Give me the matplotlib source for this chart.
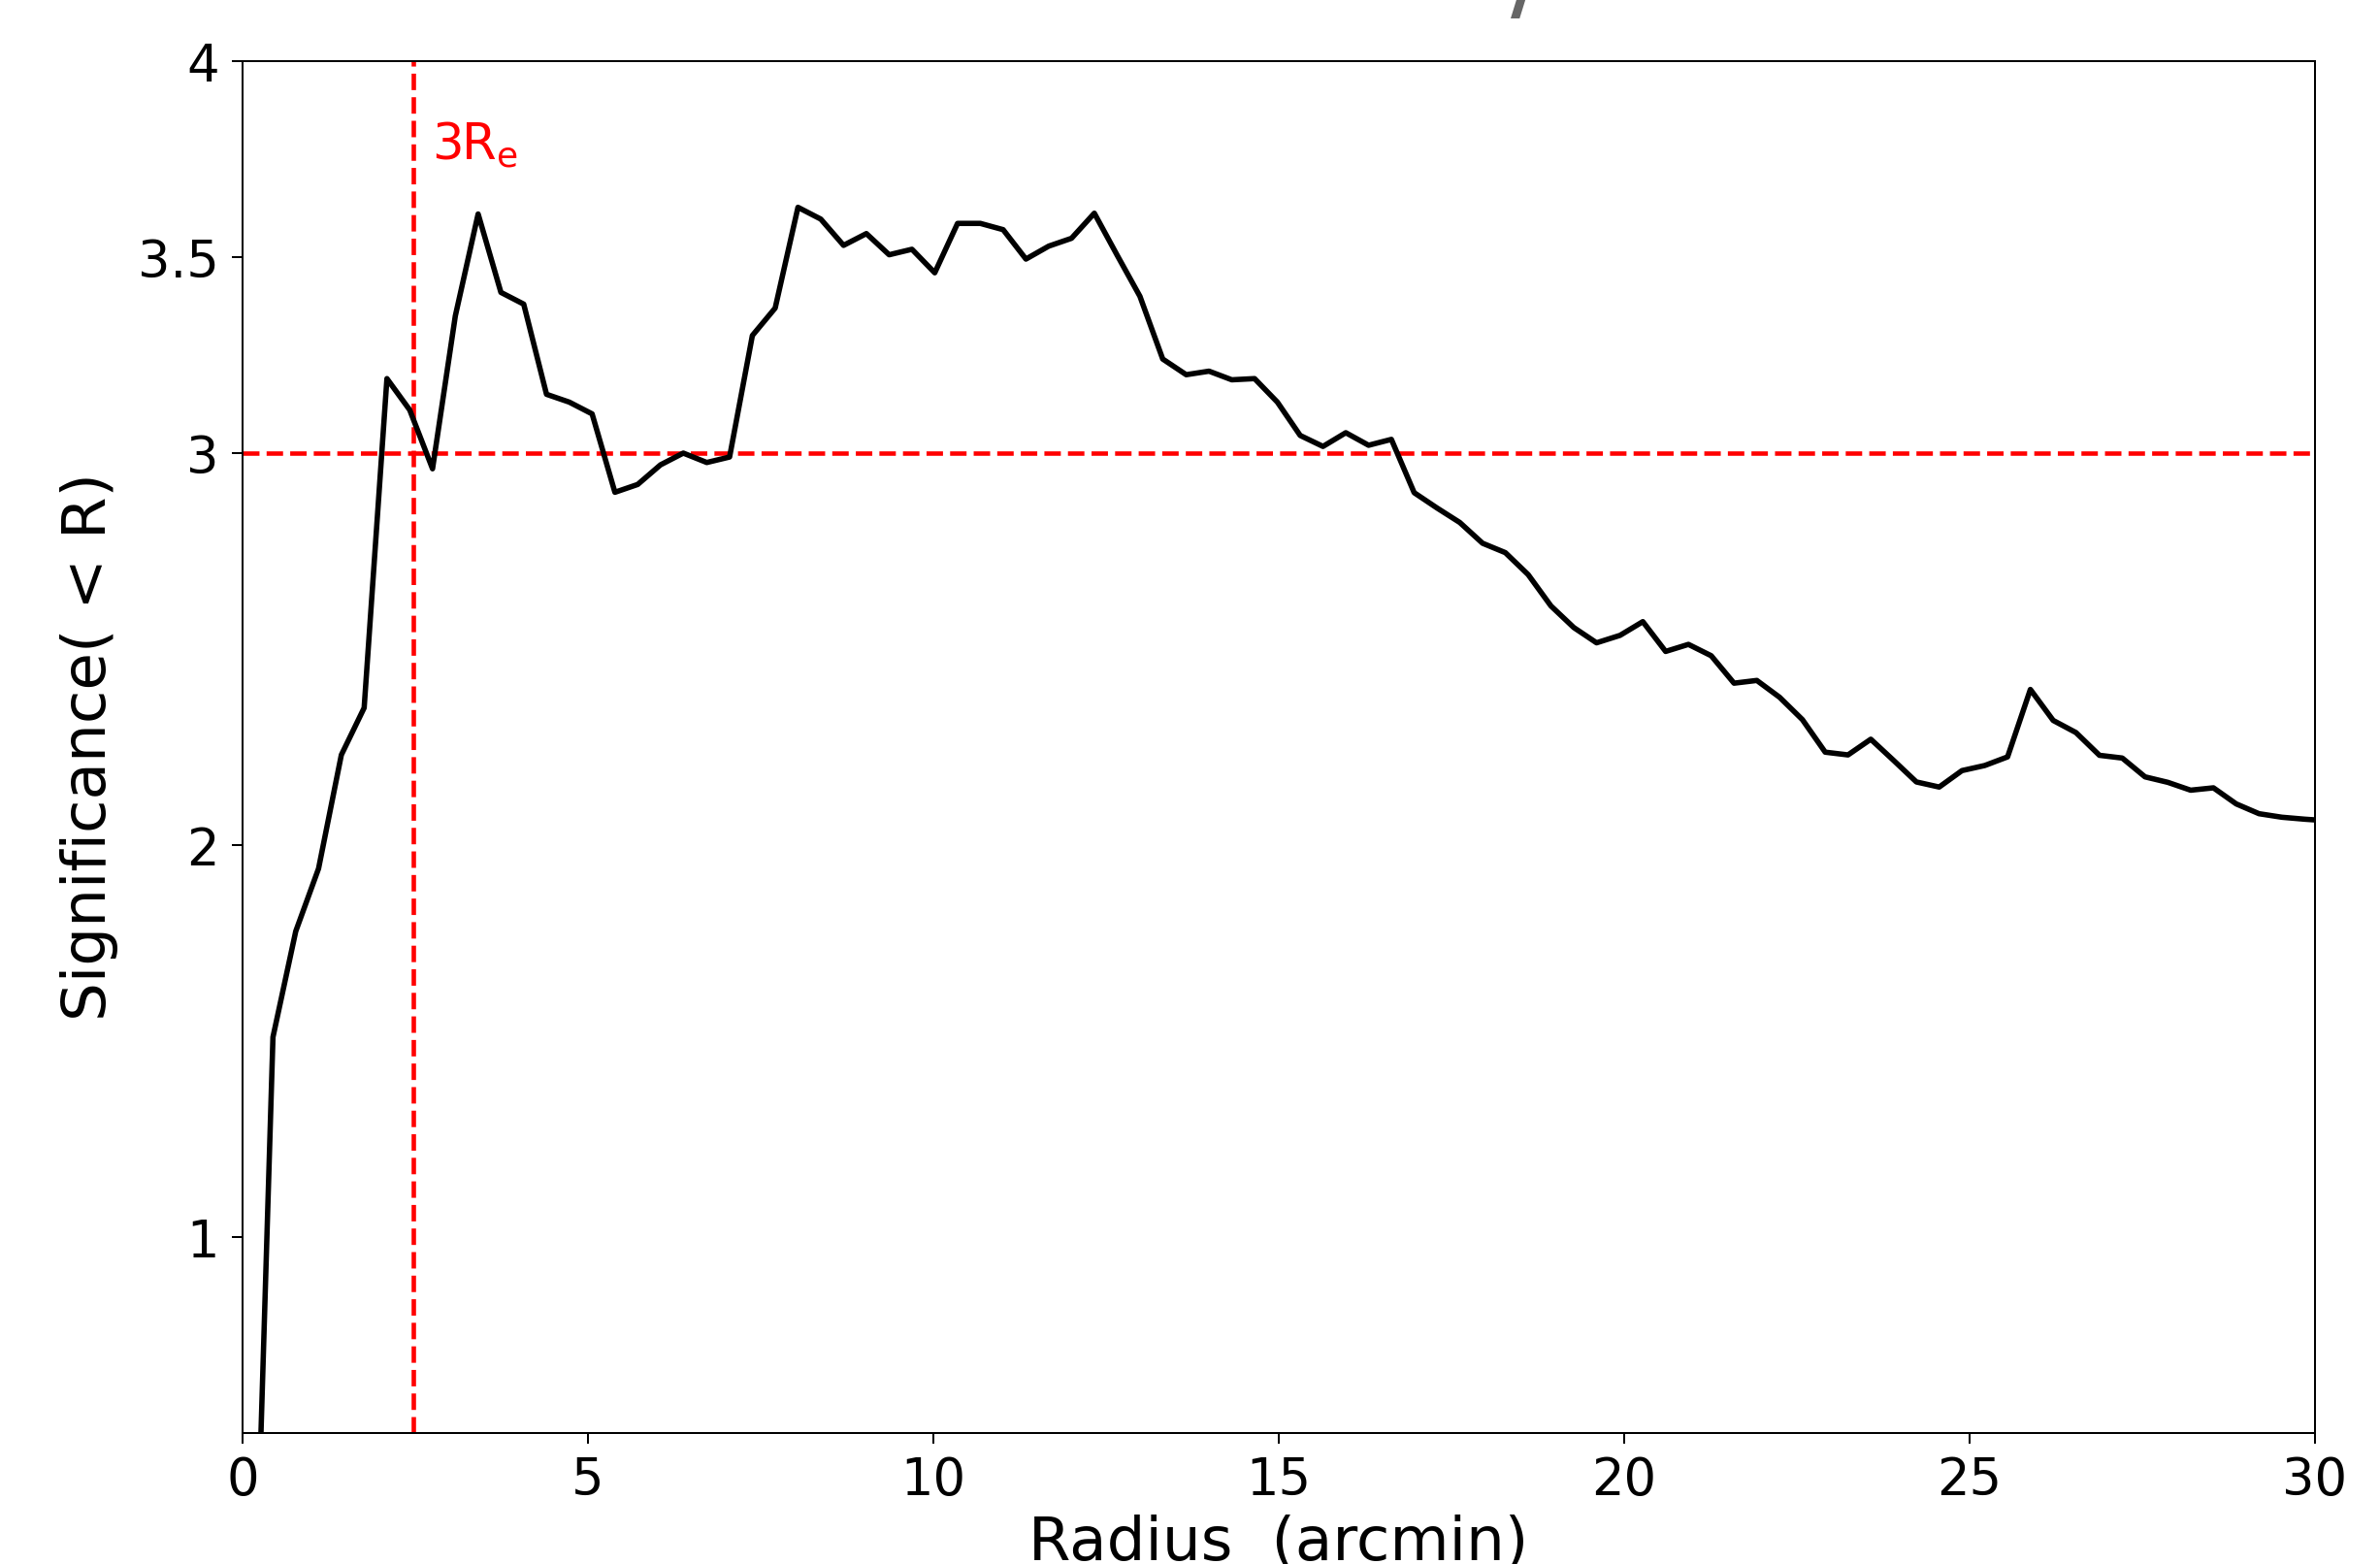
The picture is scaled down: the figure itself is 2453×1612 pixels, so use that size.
import numpy as np
import matplotlib
matplotlib.use("Agg")
import matplotlib.pyplot as plt

# ---- data ----
radius = [0.10, 0.44, 0.77, 1.10, 1.43, 1.76, 2.09, 2.42, 2.75, 3.08,
          3.41, 3.74, 4.07, 4.40, 4.73, 5.06, 5.39, 5.72, 6.05, 6.38,
          6.72, 7.05, 7.38, 7.71, 8.04, 8.37, 8.70, 9.03, 9.36, 9.69,
          10.02, 10.35, 10.68, 11.01, 11.34, 11.67, 12.00, 12.33, 12.66, 12.99,
          13.32, 13.66, 13.99, 14.32, 14.65, 14.98, 15.31, 15.64, 15.97, 16.30,
          16.63, 16.96, 17.29, 17.62, 17.95, 18.28, 18.61, 18.94, 19.27, 19.60,
          19.94, 20.27, 20.60, 20.93, 21.26, 21.59, 21.92, 22.25, 22.58, 22.91,
          23.24, 23.57, 23.90, 24.23, 24.56, 24.89, 25.22, 25.55, 25.88, 26.21,
          26.54, 26.88, 27.21, 27.54, 27.87, 28.20, 28.53, 28.86, 29.19, 29.52,
          29.85, 30.18]

significance = [-0.47, 1.51, 1.78, 1.94, 2.23, 2.35, 3.19, 3.11, 2.96, 3.35,
                3.61, 3.41, 3.38, 3.15, 3.13, 3.10, 2.90, 2.92, 2.97, 3.00,
                2.976, 2.99, 3.30, 3.37, 3.627, 3.597, 3.53, 3.56, 3.506, 3.52,
                3.46, 3.586, 3.586, 3.57, 3.495, 3.528, 3.548, 3.612, 3.505, 3.40,
                3.24, 3.20, 3.209, 3.187, 3.19, 3.13, 3.045, 3.017, 3.052, 3.02,
                3.035, 2.899, 2.86, 2.823, 2.77, 2.746, 2.69, 2.61, 2.555, 2.516,
                2.535, 2.57, 2.494, 2.512, 2.483, 2.413, 2.42, 2.377, 2.32, 2.237,
                2.23, 2.27, 2.216, 2.161, 2.148, 2.19, 2.203, 2.225, 2.397, 2.318,
                2.287, 2.229, 2.222, 2.174, 2.16, 2.14, 2.146, 2.105, 2.08, 2.071,
                2.066, 2.062]

threshold = 3.0          # horizontal reference level
r_3re = 2.47             # 3 R_e radius (arcmin)
yticks = [1, 2, 3, 3.5, 4]
ytick_labels = ["1", "2", "3", "3.5", "4"]
xticks = [0, 5, 10, 15, 20, 25, 30]
xtick_labels = ["0", "5", "10", "15", "20", "25", "30"]

# ---- figure ----
DPI = 200
W, H = 2453, 1612
fig = plt.figure(figsize=(W / DPI, H / DPI), dpi=DPI)
L, R, T, B = 250, 2386, 63, 1477
ax = fig.add_axes([L / W, 1 - B / H, (R - L) / W, (B - T) / H])

ax.plot(radius, significance, color="black", lw=2.0, zorder=3)
ax.axhline(threshold, color="red", ls="--", lw=1.65, zorder=2)
ax.axvline(r_3re, color="red", ls="--", lw=1.65, zorder=2)
ax.text(2.74, 3.75, r"3R$_\mathrm{e}$", color="red", fontsize=18.5,
        ha="left", va="baseline")

ax.set_xlim(0, 30)
ax.set_ylim(0.5, 4)
ax.set_xticks(xticks)
ax.set_xticklabels(xtick_labels)
ax.set_yticks(yticks)
ax.set_yticklabels(ytick_labels)
ax.tick_params(axis="both", labelsize=19, length=3.8, width=0.72)
ax.tick_params(axis="x", pad=4.3)
ax.tick_params(axis="y", pad=5.0)
for s in ax.spines.values():
    s.set_linewidth(0.72)

ax.set_xlabel("Radius  (arcmin)", fontsize=22.6)
ax.set_ylabel("Significance( < R)", fontsize=22.6)
ax.xaxis.set_label_coords(0.5, (B - 1560) / (B - T))
ax.yaxis.set_label_coords((122 - L) / (R - L), 0.5)

# fragment of a clipped grey title at the very top
fig.text(1557 / W, 1 - 9 / H, "/", color="0.4", fontsize=40,
         ha="left", va="baseline")

fig.savefig("out.png", dpi=DPI)
